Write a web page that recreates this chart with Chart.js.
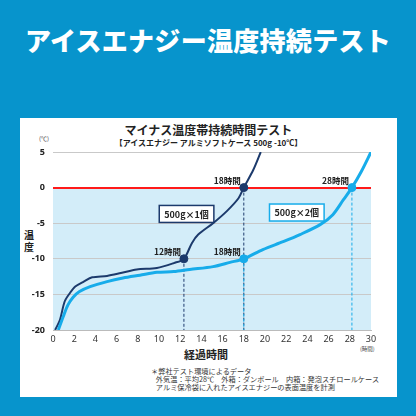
<!DOCTYPE html>
<html lang="ja">
<head>
<meta charset="UTF-8">
<title>アイスエナジー温度持続テスト</title>
<script src="https://cdn.jsdelivr.net/npm/chart.js"></script>
<style>
    body { margin: 0; width: 416px; height: 416px; background: #0794cc; position: relative; overflow: hidden;
           font-family: "Noto Sans CJK JP", "Noto Sans", sans-serif; }
    .header { position: absolute; left: 0; top: 22px; width: 416px; text-align: center; color: #fff;
              font-size: 26px; font-weight: 900; line-height: 36px; letter-spacing: 0.3px; }
    .panel { position: absolute; left: 20px; top: 118px; width: 377px; height: 279px; background: #fff; }
    .panel div { position: absolute; white-space: nowrap; color: #222; }
    .title { left: 0; width: 377px; top: 4px; text-align: center; font-size: 12px; font-weight: bold; line-height: 16px; }
    .subtitle { left: 0; width: 377px; top: 19px; text-align: center; font-size: 8px; font-weight: bold; line-height: 12px; }
    .unitY { left: 19px; top: 16px; font-size: 6px; color: #444 !important; }
    .axisY { left: 3px; top: 111px; width: 12px; font-size: 10px; font-weight: bold; line-height: 12px; text-align: center; }
    .axisX { left: 0; width: 372px; top: 229px; text-align: center; font-size: 11px; font-weight: bold; line-height: 14px; }
    .unitX { left: 340px; top: 227px; font-size: 5.5px; color: #444 !important; }
    .note { left: 131px; top: 249px; font-size: 7.2px; line-height: 8.2px; color: #333 !important; }
    canvas { position: absolute; left: 0; top: 0; }
</style>
</head>
<body>
<div class="header">アイスエナジー温度持続テスト</div>
<div class="panel">
    <div class="title">マイナス温度帯持続時間テスト</div>
    <div class="subtitle">【アイスエナジー アルミソフトケース 500g -10℃】</div>
    <div class="unitY">(℃)</div>
    <div class="axisY">温<br>度</div>
    <div class="axisX">経過時間</div>
    <div class="unitX">(時間)</div>
    <div class="note">＊弊社テスト環境によるデータ<br>&nbsp;&nbsp;&nbsp;外気温：平均28℃　外箱：ダンボール　内箱：発泡スチロールケース<br>&nbsp;&nbsp;&nbsp;アルミ保冷袋に入れたアイスエナジーの表面温度を計測</div>
    <div style="left:0;top:0;width:377px;height:230px;"><canvas id="tempChart"></canvas></div>
</div>
<script>
    // 500g×1個
    const hours1 = [0.2, 0.65, 1.1, 1.6, 2.1, 2.9, 3.7, 5.1, 6.4, 7.9, 9.8, 11.4, 12.35, 13.1, 13.7, 15.1, 16.4, 17.5, 18.0, 18.9, 19.6];
    const temps1 = [-20, -18.6, -16.0, -14.8, -13.9, -13.2, -12.6, -12.4, -12.0, -11.5, -11.3, -10.6, -10.0, -7.8, -6.6, -5.0, -3.3, -1.5, 0, 2.5, 5];
    // 500g×2個
    const hours2 = [0.5, 0.97, 1.4, 1.9, 2.5, 3.5, 5.1, 6.6, 8.2, 9.8, 11.4, 12.9, 15.1, 16.7, 18.0, 19.8, 21.7, 23.3, 25.2, 26.4, 27.4, 28.2, 29.1, 30];
    const temps2 = [-20, -18.1, -16.5, -15.4, -14.6, -13.9, -13.2, -12.7, -12.3, -11.9, -11.8, -11.5, -11.1, -10.5, -10.0, -8.7, -7.6, -6.6, -5.2, -3.8, -1.7, 0, 2.3, 5];

    const markHours1 = [12.35, 18.0];
    const markTemps1 = [-10, 0];
    const markLabels1 = ['12時間', '18時間'];
    const markHours2 = [18.0, 28.2];
    const markTemps2 = [-10, 0];
    const markLabels2 = ['18時間', '28時間'];

    const boxLabels = ['500g×1個', '500g×2個'];
    const boxHours = [12.6, 23.0];
    const boxTemps = [-3.7, -3.5];

    const yTicks = [5, 0, -5, -10, -15, -20];

    const DARK = '#1c3a6c';
    const LIGHT = '#17acea';

    function toPoints(xs, ys) {
        return xs.map((x, i) => ({ x: x, y: ys[i] }));
    }

    // light blue area below 0℃, drawn before grid
    const bgPlugin = {
        id: 'bg',
        beforeDraw(chart) {
            const { ctx, chartArea, scales } = chart;
            const y0 = scales.y.getPixelForValue(0);
            ctx.save();
            ctx.fillStyle = '#d3edf9';
            ctx.fillRect(chartArea.left, y0, chartArea.right - chartArea.left, chartArea.bottom - y0);
            ctx.restore();
        }
    };

    const markPlugin = {
        id: 'marks',
        beforeDatasetsDraw(chart) {
            const { ctx, scales } = chart;
            const yb = scales.y.getPixelForValue(-20);
            ctx.save();
            ctx.lineWidth = 1;
            ctx.setLineDash([3, 2]);
            [[markHours1, markTemps1, DARK], [markHours2, markTemps2, LIGHT]].forEach(([hs, ts, col]) => {
                ctx.strokeStyle = col;
                hs.forEach((h, i) => {
                    const x = scales.x.getPixelForValue(h);
                    ctx.beginPath();
                    ctx.moveTo(x, scales.y.getPixelForValue(ts[i]));
                    ctx.lineTo(x, yb);
                    ctx.stroke();
                });
            });
            ctx.restore();
        },
        afterDatasetsDraw(chart) {
            const { ctx, scales } = chart;
            ctx.save();
            ctx.font = 'bold 8.5px "Noto Sans CJK JP"';
            ctx.fillStyle = '#222';
            ctx.textAlign = 'right';
            ctx.textBaseline = 'bottom';
            [[markHours1, markTemps1, markLabels1], [markHours2, markTemps2, markLabels2]].forEach(([hs, ts, ls]) => {
                hs.forEach((h, i) => {
                    ctx.fillText(ls[i], scales.x.getPixelForValue(h) - 3, scales.y.getPixelForValue(ts[i]) - 3);
                });
            });
            // series boxes
            ctx.textAlign = 'center';
            ctx.textBaseline = 'middle';
            ctx.font = 'bold 9px "Noto Sans CJK JP"';
            const borders = [DARK, LIGHT];
            boxLabels.forEach((t, i) => {
                const cx = scales.x.getPixelForValue(boxHours[i]);
                const cy = scales.y.getPixelForValue(boxTemps[i]);
                const w = ctx.measureText(t).width + 10;
                const h = 17;
                ctx.fillStyle = '#fff';
                ctx.fillRect(cx - w / 2, cy - h / 2, w, h);
                ctx.strokeStyle = borders[i];
                ctx.lineWidth = 1.5;
                ctx.strokeRect(cx - w / 2, cy - h / 2, w, h);
                ctx.fillStyle = '#222';
                ctx.fillText(t, cx, cy + 0.5);
            });
            ctx.restore();
        }
    };

    const ctx = document.getElementById('tempChart').getContext('2d');
    new Chart(ctx, {
        type: 'line',
        data: {
            datasets: [
                { label: '500g×2個', data: toPoints(hours2, temps2), borderColor: LIGHT, borderWidth: 3,
                  pointRadius: 0, tension: 0.3, fill: false },
                { label: '500g×1個', data: toPoints(hours1, temps1), borderColor: DARK, borderWidth: 2,
                  pointRadius: 0, tension: 0.3, fill: false },
                { label: 'mark2', data: toPoints(markHours2, markTemps2), showLine: false,
                  pointRadius: 4, pointBackgroundColor: LIGHT, pointBorderColor: LIGHT },
                { label: 'mark1', data: toPoints(markHours1, markTemps1), showLine: false,
                  pointRadius: 4, pointBackgroundColor: DARK, pointBorderColor: DARK }
            ]
        },
        options: {
            responsive: true,
            maintainAspectRatio: false,
            animation: { duration: 0 },
            layout: { padding: { top: 34, right: 26, bottom: 0, left: 0 } },
            plugins: { legend: { display: false }, tooltip: { enabled: false } },
            scales: {
                x: {
                    type: 'linear', min: 0, max: 30,
                    afterFit(s) { s.height = 18; },
                    grid: { display: false, drawTicks: false },
                    border: { display: true, color: '#bbb' },
                    ticks: { stepSize: 2, padding: 4, color: '#333', font: { size: 9, family: 'Noto Sans' } }
                },
                y: {
                    min: -20, max: 5,
                    afterFit(s) { s.width = 33; },
                    afterBuildTicks(s) { s.ticks = yTicks.map(v => ({ value: v })); },
                    grid: {
                        drawTicks: false,
                        color: c => c.tick && c.tick.value === 0 ? '#ff1a1a' : '#c9c9c9',
                        lineWidth: c => c.tick && c.tick.value === 0 ? 2 : 1
                    },
                    border: { display: false },
                    ticks: { padding: 8, color: '#222', font: { size: 9, weight: 'bold', family: 'Noto Sans' } }
                }
            }
        },
        plugins: [bgPlugin, markPlugin]
    });
</script>
</body>
</html>
